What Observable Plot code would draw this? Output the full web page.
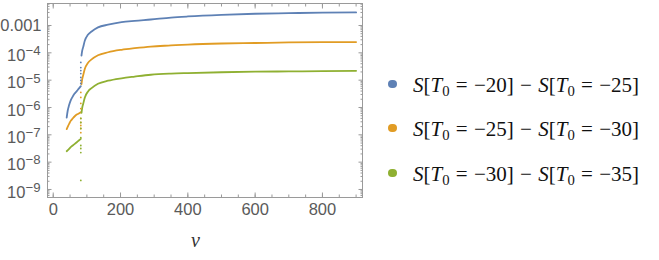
<!DOCTYPE html>
<html><head><meta charset="utf-8">
<script src="https://cdn.jsdelivr.net/npm/d3@7"></script>
<script src="https://cdn.jsdelivr.net/npm/@observablehq/plot@0.6"></script>
<style>
body{margin:0;background:#fff;}
#wrap{position:relative;width:659px;height:260px;overflow:hidden;}
.item{position:absolute;left:0;height:24px;white-space:nowrap;}
.dot{position:absolute;left:388px;width:8.6px;height:8.6px;border-radius:50%;}
.tx{position:absolute;left:413px;font-family:"Liberation Serif","Times New Roman",serif;font-size:21px;color:#111;line-height:24px;}
.tx sub{font-size:0.7em;vertical-align:-0.25em;line-height:0;}
.op{padding:0 0.3em;}
.xlab{position:absolute;font-family:"Liberation Serif",serif;font-style:italic;font-size:20px;color:#333;}
</style></head><body><div id="wrap"></div>
<script>
// ---- data ----
const seriesNames = ["S[T0=-20]-S[T0=-25]","S[T0=-25]-S[T0=-30]","S[T0=-30]-S[T0=-35]"];
const seriesT0 = [[-20,-25],[-25,-30],[-30,-35]];
const colors = ["#5E81B5","#E19C24","#8FB032"];

const blueV1 = [40,43,47,52,57,63,70,76,82];
const blueS1 = [4.27e-7,7.59e-7,1.20e-6,1.82e-6,2.40e-6,3.16e-6,3.98e-6,4.90e-6,6.03e-6];
const orangeV1 = [40,44,48,52,58,64,70,76,82];
const orangeS1 = [1.62e-7,2.09e-7,2.63e-7,3.24e-7,3.98e-7,4.79e-7,5.50e-7,6.03e-7,6.76e-7];
const greenV1 = [40,46,52,58,64,70,76,82];
const greenS1 = [2.51e-8,2.95e-8,3.55e-8,4.07e-8,4.68e-8,5.37e-8,6.17e-8,7.08e-8];

const v2 = [84,86,89,94,103,114,133,163,203,242,290,350,400,500,600,700,800,900];
const blueS2 = [7.94e-5,1.17e-4,1.62e-4,2.82e-4,4.57e-4,6.03e-4,8.51e-4,1.07e-3,1.32e-3,1.48e-3,1.66e-3,1.95e-3,2.14e-3,2.45e-3,2.69e-3,2.82e-3,2.95e-3,3.02e-3];
const orangeS2 = [7.08e-6,1.07e-5,1.51e-5,2.63e-5,4.27e-5,5.75e-5,8.13e-5,1.05e-4,1.29e-4,1.48e-4,1.70e-4,1.86e-4,2.00e-4,2.19e-4,2.29e-4,2.40e-4,2.45e-4,2.47e-4];
const greenS2 = [6.31e-7,9.55e-7,1.35e-6,2.34e-6,3.80e-6,5.13e-6,7.41e-6,9.55e-6,1.17e-5,1.35e-5,1.58e-5,1.74e-5,1.82e-5,1.95e-5,2.04e-5,2.09e-5,2.14e-5,2.19e-5];

const jumpV = 82;
const blueJump = [4.47e-5,2.88e-5,2.24e-5,1.74e-5,1.26e-5,9.77e-6,7.59e-6];
const orangeJump = [3.55e-6,2.34e-6,1.41e-6,9.12e-7,3.98e-7,2.82e-7,2.19e-7,1.70e-7,1.20e-7];
const greenJump = [3.98e-7,2.82e-7,1.70e-7,7.94e-8,4.07e-8,3.16e-8,2.24e-8,2.14e-9];

const xMajor = [0,200,400,600,800];
const xMinor = [0,50,100,150,200,250,300,350,400,450,500,550,600,650,700,750,800,850,900];
const yMajor = [1e-9,1e-8,1e-7,1e-6,1e-5,1e-4,1e-3];
const yTickLabels = ["10^−9","10^−8","10^−7","10^−6","10^−5","10^−4","0.001"];
const xAxisLabel = "v";

// ---- build tables ----
const lines = [];
const addLine = (vs, ss, si, br) => vs.forEach((v,i)=>lines.push({v, s:ss[i], series:seriesNames[si], branch: si+"-"+br}));
addLine(blueV1, blueS1, 0, 1); addLine(v2, blueS2, 0, 2);
addLine(orangeV1, orangeS1, 1, 1); addLine(v2, orangeS2, 1, 2);
addLine(greenV1, greenS1, 2, 1); addLine(v2, greenS2, 2, 2);
const dots = [];
[[blueJump,0],[orangeJump,1],[greenJump,2]].forEach(([arr,si])=>arr.forEach(s=>dots.push({v:jumpV, s, series:seriesNames[si]})));

const yMinor = [];
for (let e=-10;e<=-2;e++) for (let k=2;k<=9;k++) { const t=k*Math.pow(10,e); if (t>5.09e-10 && t<6.38e-3) yMinor.push(t); }

const gray = "#9a9a9a";
const fmtY = d => yTickLabels[yMajor.findIndex(t=>Math.abs(t-d)/t<1e-6)];

const chart = Plot.plot({
  width: 659, height: 260,
  marginLeft: 47, marginRight: 297, marginTop: 3, marginBottom: 63,
  x: {domain: [-17, 919]},
  y: {type: "log", domain: [5.09e-10, 6.38e-3]},
  color: {domain: seriesNames, range: colors},
  style: {fontFamily: "'Liberation Sans', Arial, sans-serif", fontSize: "16.5px", color: "#5a5a5a", background: "#fff"},
  marks: [
    Plot.frame({stroke: gray}),
    Plot.axisX({anchor: "bottom", ticks: xMajor, tickSize: -4.5, stroke: gray, tickFormat: () => "", label: null}),
    Plot.axisX({anchor: "bottom", ticks: xMinor, tickSize: -2.5, stroke: gray, tickFormat: () => "", label: null}),
    Plot.axisX({anchor: "top", ticks: xMajor, tickSize: -4.5, stroke: gray, tickFormat: () => "", label: null}),
    Plot.axisX({anchor: "top", ticks: xMinor, tickSize: -2.5, stroke: gray, tickFormat: () => "", label: null}),
    Plot.axisX({anchor: "bottom", ticks: xMajor, tickSize: 0, tickPadding: 6, tickFormat: d => String(d), label: null}),
    Plot.axisY({anchor: "left", ticks: yMajor, tickSize: -4.5, stroke: gray, tickFormat: () => "", label: null}),
    Plot.axisY({anchor: "left", ticks: yMinor, tickSize: -2.5, stroke: gray, tickFormat: () => "", label: null}),
    Plot.axisY({anchor: "right", ticks: yMajor, tickSize: -4.5, stroke: gray, tickFormat: () => "", label: null}),
    Plot.axisY({anchor: "right", ticks: yMinor, tickSize: -2.5, stroke: gray, tickFormat: () => "", label: null}),
    Plot.axisY({anchor: "left", ticks: yMajor.slice(0,6), tickSize: 0, tickPadding: 7, dy: 3, tickFormat: fmtY, label: null}),
    Plot.axisY({anchor: "left", ticks: [1e-3], tickSize: 0, tickPadding: 6, tickFormat: fmtY, label: null}),
    Plot.line(lines, {x: "v", y: "s", z: "branch", stroke: "series", strokeWidth: 1.8, curve: "monotone-x"}),
    Plot.dot(dots, {x: "v", y: "s", fill: "series", r: 0.9, stroke: null})
  ]
});

// superscripts in y tick labels
d3.select(chart).selectAll("text").each(function(){
  const t = this.textContent;
  if (t.includes("^")) {
    const [b, e] = t.split("^");
    const s = d3.select(this);
    s.text(b);
    s.append("tspan").attr("dy", "-0.45em").attr("font-size", "0.8em").text(e);
  }
});

const wrap = document.getElementById("wrap");
wrap.appendChild(chart);

// x label
const xl = document.createElement("div");
xl.className = "xlab"; xl.textContent = xAxisLabel;
xl.style.left = "191px"; xl.style.top = "229px";
wrap.appendChild(xl);

// legend
const tops = [73, 117, 162];
seriesT0.forEach(([a,b], i) => {
  const it = document.createElement("div");
  it.className = "item"; it.style.top = tops[i] + "px";
  const d = document.createElement("span"); d.className = "dot"; d.style.background = colors[i]; d.style.top = "6.7px";
  const tx = document.createElement("span"); tx.className = "tx";
  const term = v => `<i>S</i>[<i>T</i><sub>0</sub><span class="op">=</span>−${Math.abs(v)}]`;
  tx.innerHTML = term(a) + `<span class="op">−</span>` + term(b);
  it.appendChild(d); it.appendChild(tx);
  wrap.appendChild(it);
});
</script></body></html>
